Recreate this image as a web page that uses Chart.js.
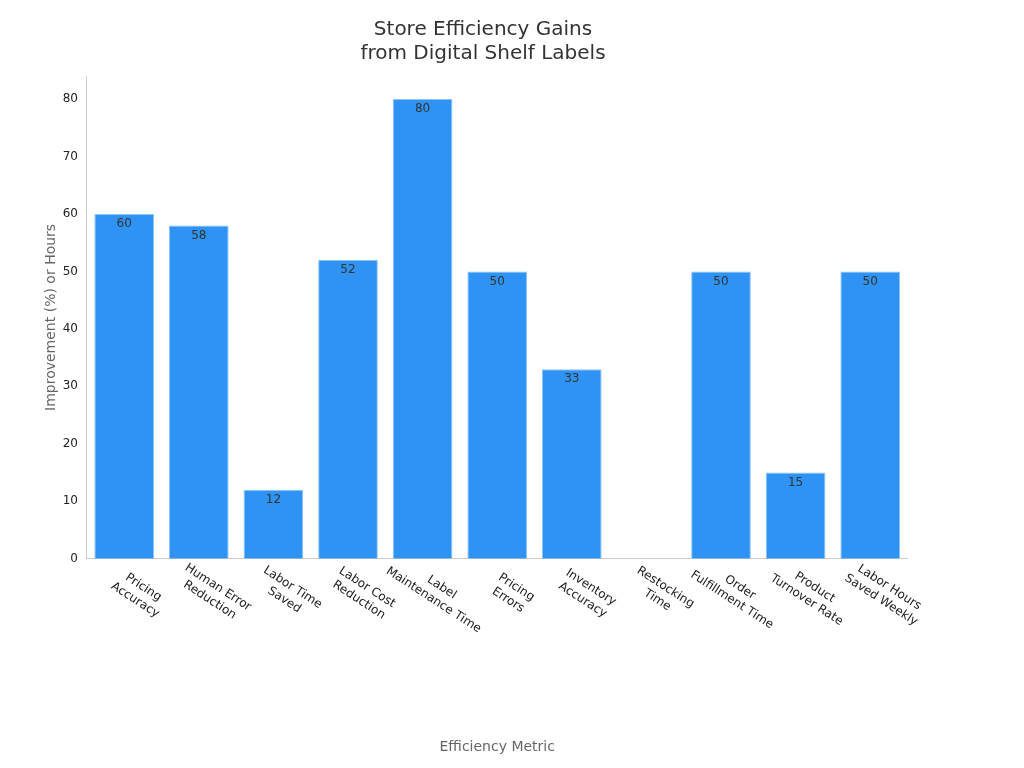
<!DOCTYPE html>
<html><head><meta charset="utf-8">
<script src="https://cdn.jsdelivr.net/npm/chart.js@4"></script>
<style>html,body{margin:0;background:#fff}#w{width:1024px;height:768px}</style>
</head><body><div id="w"><canvas id="c"></canvas></div>
<script>
const categories = [["Pricing","Accuracy"],["Human Error","Reduction"],["Labor Time","Saved"],["Labor Cost","Reduction"],["Label","Maintenance Time"],["Pricing","Errors"],["Inventory","Accuracy"],["Restocking","Time"],["Order","Fulfillment Time"],["Product","Turnover Rate"],["Labor Hours","Saved Weekly"]];
const values = [60,58,12,52,80,50,33,null,50,15,50];
const yTicks = [0,10,20,30,40,50,60,70,80];
const FONT = "'DejaVu Sans', sans-serif";

const labelPlugin = {
  id:'custom',
  afterDatasetsDraw(chart){
    const ctx = chart.ctx, meta = chart.getDatasetMeta(0);
    ctx.save();
    ctx.font = "12px " + FONT; ctx.fillStyle = "#333"; ctx.textAlign = "center"; ctx.textBaseline = "top";
    meta.data.forEach((b,i)=>{ if(values[i]==null) return; ctx.fillText(String(values[i]), b.x, b.y+4); });
    const xs = chart.scales.x;
    ctx.fillStyle = "#222"; ctx.textAlign = "center"; ctx.textBaseline = "middle";
    categories.forEach((lines,i)=>{
      const x = xs.getPixelForValue(i), y = xs.top + 20;
      ctx.save(); ctx.translate(x+15, y+15); ctx.rotate(Math.PI/180*33);
      lines.forEach((t,j)=>ctx.fillText(t, 0, (j-(lines.length-1)/2)*15));
      ctx.restore();
    });
    ctx.restore();
  }
};

new Chart(document.getElementById('c'), {
  type:'bar',
  data:{labels:categories.map(l=>l.join(' ')), datasets:[{data:values, backgroundColor:'#2E93F5', borderColor:'#8CC4F8', borderWidth:1, barPercentage:0.8, categoryPercentage:1}]},
  options:{
    responsive:true, maintainAspectRatio:false, animation:false,
    layout:{padding:{left:0,right:58,top:10,bottom:8}},
    plugins:{legend:{display:false}, tooltip:{enabled:false},
      title:{display:true, text:["Store Efficiency Gains","from Digital Shelf Labels"], color:'#333', font:{family:FONT,size:20,weight:'normal'}, padding:{top:8,bottom:10}}},
    scales:{
      x:{grid:{display:false, tickLength:6}, border:{color:'#ccc'},
         ticks:{color:'rgba(0,0,0,0)', autoSkip:false, maxRotation:0, minRotation:0, font:{size:12}, padding:80},
         title:{display:true, text:'Efficiency Metric', color:'#666', font:{family:FONT,size:14}, padding:{top:0}}},
      y:{min:0, max:84, grid:{display:false, tickLength:6}, border:{color:'#ccc'},
         afterBuildTicks(s){ s.ticks = yTicks.map(v=>({value:v})); },
         ticks:{color:'#222', font:{family:FONT,size:12}},
         title:{display:true, text:'Improvement (%) or Hours', color:'#666', font:{family:FONT,size:14}, padding:{bottom:0}}}
    }
  },
  plugins:[labelPlugin]
});
</script></body></html>
